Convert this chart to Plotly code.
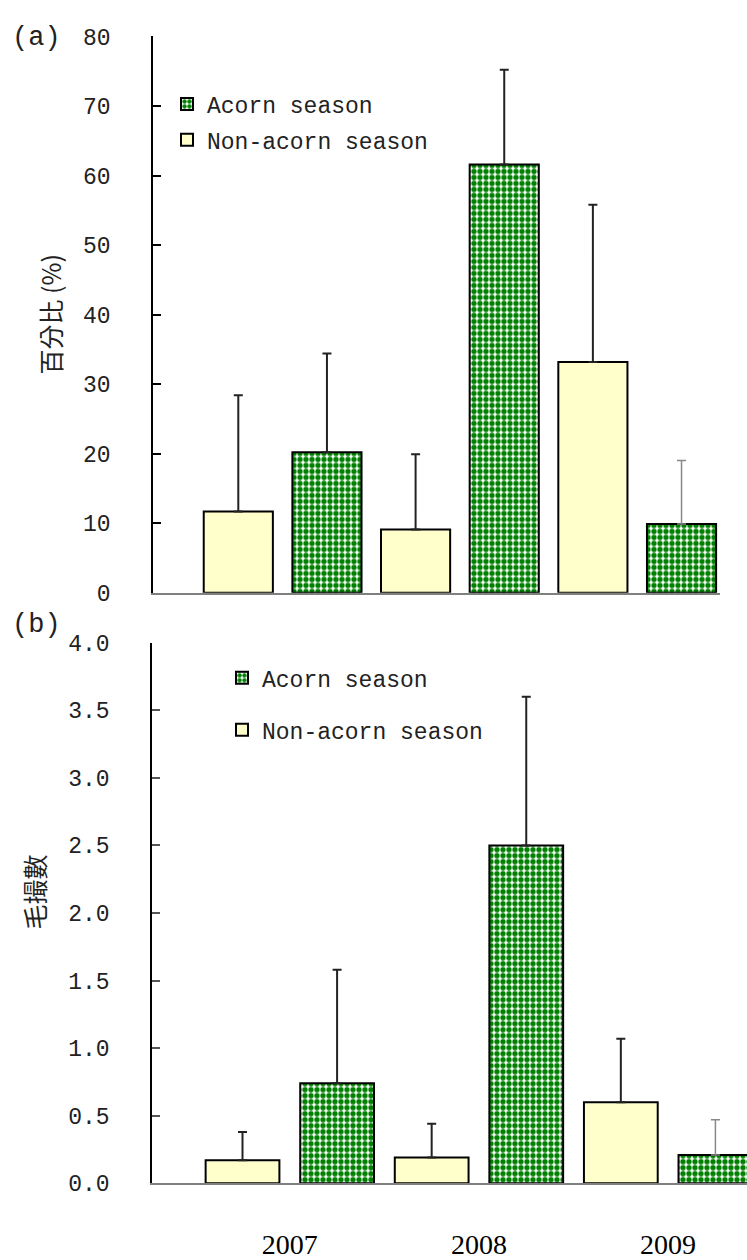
import plotly.graph_objects as go

# ---------------- data ----------------
years = ["2007", "2008", "2009"]

# panel (a): percentage (%)
pct_nonacorn = [11.7, 9.1, 33.2]
pct_nonacorn_err = [16.7, 10.8, 22.6]
pct_acorn = [20.2, 61.6, 9.9]
pct_acorn_err = [14.2, 13.6, 9.1]

# panel (b): counts
num_nonacorn = [0.17, 0.19, 0.60]
num_nonacorn_err = [0.21, 0.25, 0.47]
num_acorn = [0.74, 2.50, 0.21]
num_acorn_err = [0.84, 1.10, 0.26]

a_ticks = [0, 10, 20, 30, 40, 50, 60, 70, 80]
b_ticks = [0.0, 0.5, 1.0, 1.5, 2.0, 2.5, 3.0, 3.5, 4.0]

labels = ["Acorn season", "Non-acorn season"]

# ---------------- style ----------------
W, H = 747, 1260
GREEN = "#008000"
YELLOW = "#FFFFCC"
MONO = "Liberation Mono"
CJK = "Noto Sans CJK TC"
SERIF = "Liberation Serif"
BAR_W = 0.78

x_non = [2 * i + 1 for i in range(len(years))]
x_aco = [2 * i + 2 for i in range(len(years))]
x_year = [2 * i + 1.5 for i in range(len(years))]


def px(v):
    return v / W


def py(v):
    return 1 - v / H


def acorn_marker():
    return dict(color="white", line=dict(color="black", width=2),
                pattern=dict(shape=".", fgcolor=GREEN, bgcolor="white",
                             size=6, solidity=0.62, fillmode="replace"))


non_marker = dict(color=YELLOW, line=dict(color="black", width=2))


def err(arr, color="#222222", width=2):
    return dict(type="data", array=arr, arrayminus=[0] * len(arr),
                symmetric=False, color=color, thickness=width, width=4.5)


fig = go.Figure()

panels = [
    ("x", "y", "legend", "a", pct_acorn, pct_acorn_err, pct_nonacorn, pct_nonacorn_err),
    ("x2", "y2", "legend2", "b", num_acorn, num_acorn_err, num_nonacorn, num_nonacorn_err),
]

for xa, ya, leg, tag, aco, aco_err, non, non_err in panels:
    fig.add_trace(go.Bar(
        x=x_aco[:2], y=aco[:2], width=BAR_W, name=labels[0],
        marker=acorn_marker(), error_y=err(aco_err[:2]),
        xaxis=xa, yaxis=ya, legend=leg, legendgroup="aco" + tag, showlegend=True,
    ))
    fig.add_trace(go.Bar(
        x=x_aco[2:], y=aco[2:], width=BAR_W, name=labels[0],
        marker=acorn_marker(), error_y=err(aco_err[2:], color="#888888", width=1.5),
        xaxis=xa, yaxis=ya, legend=leg, legendgroup="aco" + tag, showlegend=False,
    ))
    fig.add_trace(go.Bar(
        x=x_non, y=non, width=BAR_W, name=labels[1],
        marker=non_marker, error_y=err(non_err),
        xaxis=xa, yaxis=ya, legend=leg, legendgroup="non" + tag, showlegend=True,
    ))

common_y = dict(showline=True, linecolor="black", linewidth=1.5, ticks="inside",
                ticklen=8, tickwidth=1.5, showgrid=False, zeroline=False,
                tickfont=dict(family=MONO, size=23, color="#222222"),
                ticklabelstandoff=36)
common_x = dict(showline=True, linecolor="#808080", linewidth=2, showgrid=False,
                zeroline=False, ticks="")

ann_font = dict(family=CJK, size=25, color="#222222")

fig.update_layout(
    width=W, height=H,
    margin=dict(l=0, r=0, t=0, b=0),
    paper_bgcolor="white", plot_bgcolor="white",
    barmode="overlay",
    xaxis=dict(common_x, domain=[px(153), px(720)], range=[0.0377, 6.434],
               showticklabels=False, anchor="y"),
    yaxis=dict(common_y, domain=[py(594), py(26)], range=[0, 80],
               tickvals=a_ticks, ticktext=[str(t) for t in a_ticks],
               tickcolor="black", anchor="x"),
    xaxis2=dict(common_x, domain=[px(152), 1.0], range=[0.043, 6.334],
                tickvals=x_year, ticktext=years,
                tickfont=dict(family=SERIF, size=28, color="black"),
                ticklabelstandoff=35, anchor="y2"),
    yaxis2=dict(common_y, domain=[py(1197), py(645)], range=[0, 4.0],
                tickvals=b_ticks, ticktext=["%.1f" % t for t in b_ticks],
                tickcolor="#555555", anchor="x2"),
    legend=dict(x=px(167), y=py(73), xanchor="left", yanchor="top",
                bgcolor="rgba(0,0,0,0)", font=dict(family=MONO, size=23, color="#222222"),
                tracegroupgap=3, traceorder="grouped"),
    legend2=dict(x=px(222), y=py(659), xanchor="left", yanchor="top",
                 bgcolor="rgba(0,0,0,0)", font=dict(family=MONO, size=23, color="#222222"),
                 tracegroupgap=19, traceorder="grouped"),
    annotations=[
        dict(text="(a)", x=px(10), y=py(28), xref="paper", yref="paper",
             xanchor="left", yanchor="middle", showarrow=False,
             font=dict(family=MONO, size=27, color="#222222")),
        dict(text="(b)", x=px(10), y=py(627), xref="paper", yref="paper",
             xanchor="left", yanchor="middle", showarrow=False,
             font=dict(family=MONO, size=27, color="#222222")),
        dict(text="百分比 (%)", x=px(50), y=py(310), xref="paper", yref="paper",
             xanchor="center", yanchor="middle", textangle=-90, showarrow=False,
             font=ann_font),
        dict(text="毛撮數", x=px(34), y=py(900), xref="paper", yref="paper",
             xanchor="center", yanchor="middle", textangle=-90, showarrow=False,
             font=ann_font),
    ],
)

fig.write_html("out.html")
